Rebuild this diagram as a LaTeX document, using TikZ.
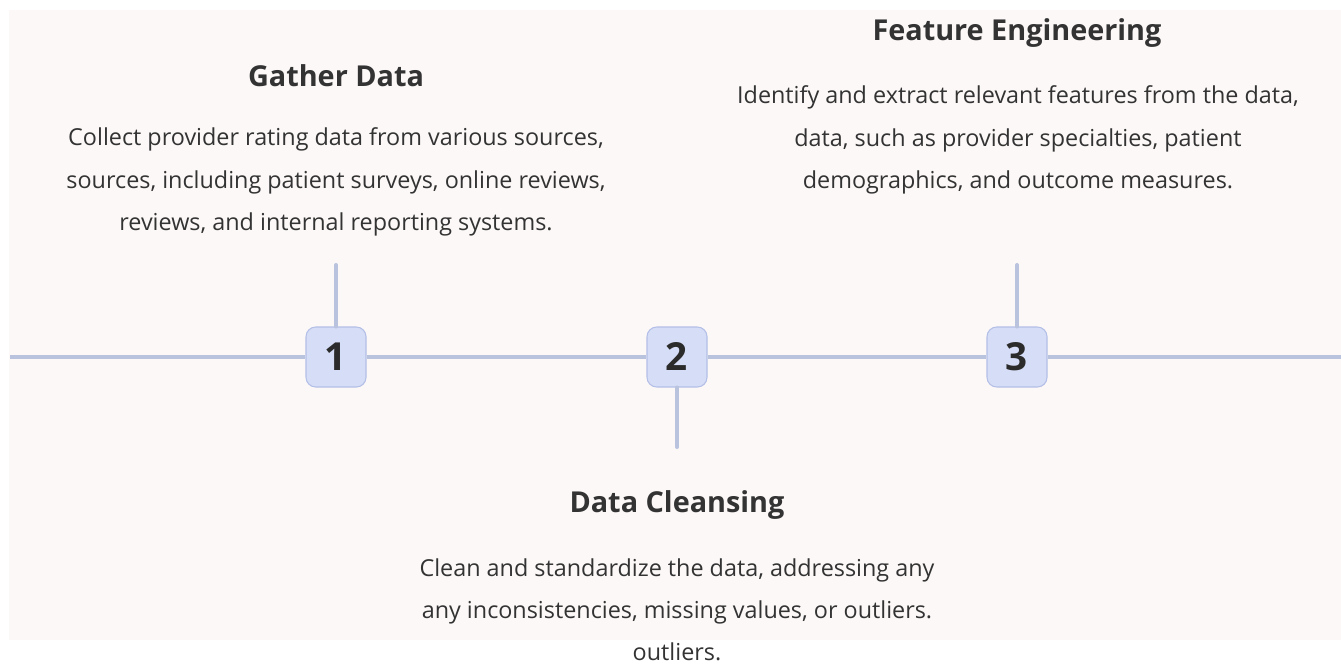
\documentclass[tikz,border=0pt]{standalone}
\usepackage{fontspec}
\setmainfont{Open Sans}
\definecolor{bgpink}{HTML}{FCF8F7}
\definecolor{linegray}{HTML}{B9C3DD}
\definecolor{boxfill}{HTML}{D6DDF6}
\definecolor{boxline}{HTML}{B3BFE6}
\definecolor{textdark}{HTML}{333333}
\begin{document}
\begin{tikzpicture}[
    x=0.02cm, y=-0.02cm,
    stepnum/.style={draw=boxline, fill=boxfill, rounded corners=5.5pt, line width=0.6pt,
        minimum size=1.2cm, inner sep=0pt, text=textdark!85!black,
        font=\fontsize{22}{22}\selectfont\bfseries},
    timeline/.style={linegray, line width=2.3pt},
    stem/.style={linegray, line width=2.3pt, line cap=round},
    title/.style={text=textdark, font=\fontsize{16.4}{20}\selectfont\bfseries},
    body/.style={text=textdark, align=center, inner sep=0pt,
        font=\fontsize{13.3}{24}\selectfont}
]
\useasboundingbox (0,0) rectangle (1341,669);
\fill[white] (0,0) rectangle (1341,669);
\fill[bgpink] (9,10) rectangle (1341,640);

\node[stepnum] (n1) at (336,357) {1};
\node[stepnum] (n2) at (677,357) {2};
\node[stepnum] (n3) at (1017,357) {3};

\coordinate (lstart) at (10,357);
\coordinate (lend) at (1341,357);
\coordinate (top1) at (336,265);
\coordinate (bot2) at (677,447);
\coordinate (top3) at (1017,265);

\draw[timeline] (lstart) -- (n1);
\draw[timeline] (n1) -- (n2);
\draw[timeline] (n2) -- (n3);
\draw[timeline] (n3) -- (lend);
\draw[stem] (n1) -- (top1);
\draw[stem] (n2) -- (bot2);
\draw[stem] (n3) -- (top3);

\node[title] (t1) at (336,76) {Gather Data};
\node[body] (d1) at (336,182) {Collect provider rating data from various sources,\\
    sources, including patient surveys, online reviews,\\
    reviews, and internal reporting systems.};

\node[title] (t2) at (677,505) {Data Cleansing};
\node[body] (d2) at (677,610) {Clean and standardize the data, addressing any\\
    any inconsistencies, missing values, or outliers.\\
    outliers.};

\node[title] (t3) at (1017,33) {Feature Engineering};
\node[body] (d3) at (1018,140) {Identify and extract relevant features from the data,\\
    data, such as provider specialties, patient\\
    demographics, and outcome measures.};

\end{tikzpicture}
\end{document}
